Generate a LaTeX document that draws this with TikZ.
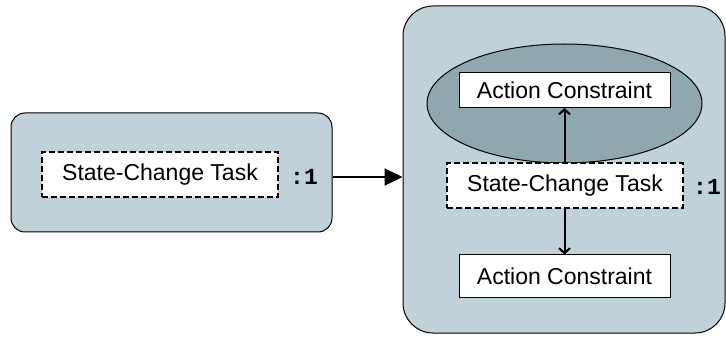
\documentclass[tikz,border=0pt]{standalone}
\usepackage{fontspec}
\setmainfont{Liberation Sans}
\newfontfamily\colonfont{Liberation Mono}
\usetikzlibrary{arrows.meta,positioning,shapes.geometric}
\definecolor{boxblue}{HTML}{C1D1DA}
\definecolor{ellblue}{HTML}{8FA8AF}

\begin{document}
\begin{tikzpicture}[x=1pt,y=-1pt,font=\fontsize{23}{26}\selectfont,
    outerbox/.style={draw,fill=boxblue,line width=1pt,inner sep=0pt},
    taskbox/.style={draw,fill=white,line width=1.8pt,dash pattern=on 6pt off 3pt,
      minimum width=236pt,minimum height=45pt,inner sep=0pt},
    actbox/.style={draw,fill=white,line width=1pt,minimum width=211pt,inner sep=0pt},
    mult/.style={font=\colonfont\bfseries\fontsize{23}{26}\selectfont,inner sep=0pt}]
  \useasboundingbox (0,0) rectangle (726,339);

  % left side
  \node (lbox) [outerbox,rounded corners=14pt,minimum width=321pt,
    minimum height=119pt] at (171.5,172.5) {};
  \node (ltask) [taskbox] at (160,174.5) {State-Change Task};
  \node (lmult) [mult] at (304,177) {:1};

  % right side
  \node (rbox) [outerbox,rounded corners=30pt,minimum width=322pt,
    minimum height=327pt] at (564,169.5) {};
  \node (ell) [ellipse,draw,fill=ellblue,line width=1pt,minimum width=275pt,
    minimum height=119pt,inner sep=0pt] at (564.5,103.5) {};
  \node (topact) [actbox,minimum height=35pt] at (564.5,90) {Action Constraint};
  \node (rtask) [taskbox] at (565,185.5) {State-Change Task};
  \node (rmult) [mult] at (707,187) {:1};
  \node (botact) [actbox,minimum height=43pt] at (564.5,276.5) {Action Constraint};

  \draw[line width=2pt,-{Triangle[length=18pt,width=17pt]}]
    (lbox.east |- lmult) -- (rbox.west |- lmult);
  \draw[line width=2pt,-{Straight Barb[length=5pt,width=11pt]}]
    (rtask.north -| topact.south) -- (topact.south);
  \draw[line width=2pt,-{Straight Barb[length=5pt,width=11pt]}]
    (rtask.south -| botact.north) -- (botact.north);
\end{tikzpicture}
\end{document}
